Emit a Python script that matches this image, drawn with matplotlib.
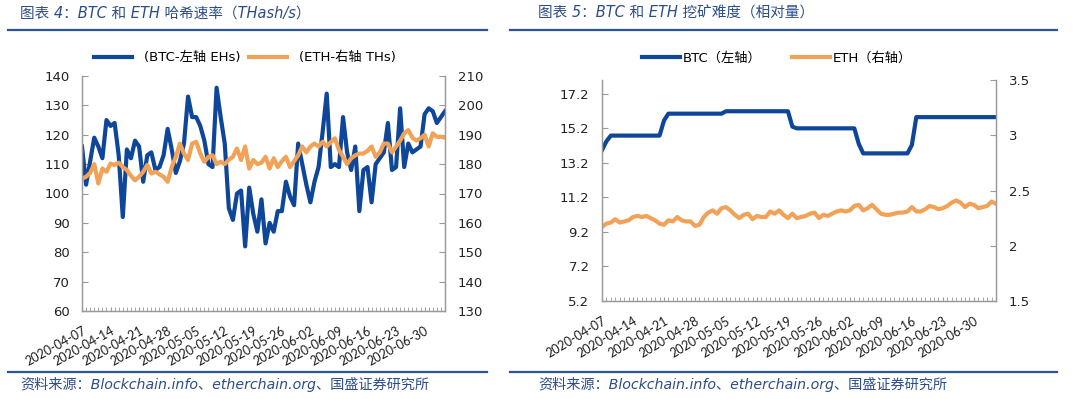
import pandas as pd
import matplotlib
matplotlib.use('Agg')
import matplotlib.pyplot as plt
import matplotlib.dates as mdates
from matplotlib.lines import Line2D

plt.rcParams['font.family'] = ['DejaVu Sans', 'Noto Sans CJK SC']

# daily data, 2020-04-07 .. 2020-07-05
dates = pd.date_range('2020-04-07', periods=90, freq='D')
tick_labels = ['2020-04-07', '2020-04-14', '2020-04-21', '2020-04-28', '2020-05-05',
               '2020-05-12', '2020-05-19', '2020-05-26', '2020-06-02', '2020-06-09',
               '2020-06-16', '2020-06-23', '2020-06-30']

# chart 4: hash rate
btc_hash = [116, 103, 111, 119, 116, 112, 125, 123, 124, 113,
            92, 115, 112, 118, 116, 104, 113, 114, 108, 109,
            113, 122, 115, 107, 111, 117, 133, 126, 126, 123,
            118, 110, 109, 136, 126, 117, 95, 91, 100, 101,
            82, 102, 93, 87, 98, 83, 90, 87, 94, 94,
            104, 99, 96, 117, 110, 103, 97, 104, 109, 121,
            134, 109, 110, 109, 126, 114, 108, 116, 94, 108,
            109, 97, 110, 112, 114, 124, 108, 109, 129, 109,
            117, 114, 115, 116, 127, 129, 128, 124, 126, 128]
eth_hash = [175.0, 175.7, 177.0, 180.0, 173.4, 178.5, 177.4, 180.2, 179.7, 180.5,
            179.0, 178.0, 176.0, 174.5, 175.7, 177.4, 179.7, 176.8, 177.4, 176.5,
            175.7, 174.0, 179.0, 182.5, 187.0, 183.6, 181.4, 187.0, 187.6, 183.6,
            180.8, 182.5, 183.0, 180.0, 180.8, 180.0, 181.5, 182.5, 185.3, 181.4,
            186.0, 178.5, 181.4, 180.0, 180.5, 182.5, 178.5, 182.0, 179.0, 181.0,
            182.5, 179.0, 181.0, 183.0, 186.0, 184.0, 186.0, 187.0, 186.0, 187.6,
            186.0, 187.5, 188.8, 184.8, 182.5, 180.0, 182.0, 183.0, 183.6, 183.6,
            184.5, 186.0, 182.5, 184.0, 187.0, 187.0, 184.0, 186.0, 188.0, 190.5,
            191.6, 189.0, 188.0, 188.8, 190.0, 186.0, 190.5, 189.3, 189.3, 189.0]

# chart 5: difficulty
btc_diff = [13.94, 14.45, 14.78, 14.78, 14.78, 14.78, 14.78, 14.78, 14.78, 14.78,
            14.78, 14.78, 14.78, 14.78, 15.65, 16.05, 16.05, 16.05, 16.05, 16.05,
            16.05, 16.05, 16.05, 16.05, 16.05, 16.05, 16.05, 16.05, 16.19, 16.19,
            16.19, 16.19, 16.19, 16.19, 16.19, 16.19, 16.19, 16.19, 16.19, 16.19,
            16.19, 16.19, 16.19, 15.30, 15.20, 15.20, 15.20, 15.20, 15.20, 15.20,
            15.20, 15.20, 15.20, 15.20, 15.20, 15.20, 15.20, 15.20, 14.30, 13.75,
            13.75, 13.75, 13.75, 13.75, 13.75, 13.75, 13.75, 13.75, 13.75, 13.75,
            14.24, 15.85, 15.85, 15.85, 15.85, 15.85, 15.85, 15.85, 15.85, 15.85,
            15.85, 15.85, 15.85, 15.85, 15.85, 15.85, 15.85, 15.85, 15.85, 15.85]
eth_diff = [2.17, 2.20, 2.21, 2.24, 2.21, 2.22, 2.23, 2.26, 2.27, 2.26,
            2.27, 2.25, 2.23, 2.20, 2.19, 2.23, 2.22, 2.26, 2.23, 2.22,
            2.22, 2.18, 2.19, 2.26, 2.30, 2.32, 2.29, 2.34, 2.35, 2.32,
            2.28, 2.25, 2.28, 2.29, 2.24, 2.27, 2.26, 2.26, 2.31, 2.29,
            2.32, 2.28, 2.25, 2.29, 2.25, 2.26, 2.27, 2.29, 2.30, 2.25,
            2.28, 2.27, 2.29, 2.31, 2.32, 2.31, 2.32, 2.36, 2.37, 2.32,
            2.34, 2.37, 2.33, 2.29, 2.28, 2.28, 2.29, 2.30, 2.30, 2.31,
            2.35, 2.31, 2.31, 2.33, 2.36, 2.35, 2.33, 2.34, 2.36, 2.39,
            2.41, 2.39, 2.35, 2.38, 2.37, 2.34, 2.35, 2.36, 2.40, 2.38]

BLUE = '#0e4699'
ORANGE = '#f2a257'
RULE = '#2a5590'
TEXT_BLUE = '#2c4c8a'
SPINE = '#9a9a9a'
W, H = 1080, 399

fig = plt.figure(figsize=(W / 100, H / 100), dpi=100)


def px_rect(l, t, r, b):
    return [l / W, 1 - b / H, (r - l) / W, (b - t) / H]


def style(ax, ax2, ysize, xrot):
    for a in (ax, ax2):
        a.spines['top'].set_visible(False)
        for s in ('left', 'right', 'bottom'):
            a.spines[s].set_color(SPINE)
            a.spines[s].set_linewidth(0.9)
        a.tick_params(axis='y', direction='in', length=4, color=SPINE,
                      labelsize=ysize, labelcolor='#222222', pad=9)
    ax.set_xlim(dates[0], dates[-1])
    ax.set_xticks(pd.to_datetime(tick_labels))
    ax.set_xticklabels(tick_labels, rotation=xrot, ha='right', rotation_mode='anchor',
                       family='Lato', fontsize=9)
    ax.xaxis.set_minor_locator(mdates.DayLocator())
    ax.tick_params(axis='x', which='both', direction='in', length=3, color=SPINE,
                   labelcolor='#1a1a1a', pad=10)


# ---- chart 4 ----
ax = fig.add_axes(px_rect(82, 76, 445, 311))
ax2 = ax.twinx()
l1, = ax.plot(dates, btc_hash, color=BLUE, lw=3.0, solid_joinstyle='round')
l2, = ax2.plot(dates, eth_hash, color=ORANGE, lw=3.0, solid_joinstyle='round')
ax.set_ylim(60, 140)
ax.set_yticks(range(60, 141, 10))
ax2.set_ylim(130, 210)
ax2.set_yticks(range(130, 211, 10))
style(ax, ax2, 9.5, 29)
fig.legend([l1, l2], ['(BTC-左轴 EHs)', '(ETH-右轴 THs)'], loc='center',
           bbox_to_anchor=(245 / W, 1 - 58 / H), ncol=2, frameon=False, fontsize=9.5,
           handlelength=2.9, handletextpad=0.9, columnspacing=0.6)

# ---- chart 5 ----
bx = fig.add_axes(px_rect(602, 80, 996, 301))
bx2 = bx.twinx()
m1, = bx.plot(dates, btc_diff, color=BLUE, lw=3.0, solid_joinstyle='round')
m2, = bx2.plot(dates, eth_diff, color=ORANGE, lw=3.0, solid_joinstyle='round')
bx.set_ylim(5.2, 18.0)
bx.set_yticks([5.2, 7.2, 9.2, 11.2, 13.2, 15.2, 17.2])
bx.set_yticklabels(['5.2', '7.2', '9.2', '11.2', '13.2', '15.2', '17.2'])
bx2.set_ylim(1.5, 3.5)
bx2.set_yticks([1.5, 2, 2.5, 3, 3.5])
bx2.set_yticklabels(['1.5', '2', '2.5', '3', '3.5'])
style(bx, bx2, 9.5, 31)
fig.legend([m1, m2], ['BTC（左轴）', 'ETH（右轴）'], loc='center',
           bbox_to_anchor=(777 / W, 1 - 58 / H), ncol=2, frameon=False, fontsize=9.5,
           handlelength=2.9, handletextpad=0.2, columnspacing=2.3)

# ---- titles, rules, sources ----
for x0, x1, tx, title in [(8, 487, 20, '图表 4：BTC 和 ETH 哈希速率（THash/s）'),
                          (510, 1057, 538, '图表 5：BTC 和 ETH 挖矿难度（相对量）')]:
    fig.text(tx / W, 1 - 13 / H, title, color=TEXT_BLUE, fontsize=10.5,
             style='italic', ha='left', va='center')
    for y in (30, 372):
        fig.add_artist(Line2D([x0 / W, x1 / W], [1 - y / H, 1 - y / H],
                              color=RULE, lw=1.6))
    fig.text(tx / W, 1 - 384 / H, '资料来源：Blockchain.info、etherchain.org、国盛证券研究所',
             color=TEXT_BLUE, fontsize=10.2, style='italic', ha='left', va='center')

fig.savefig('out.png', dpi=100)
